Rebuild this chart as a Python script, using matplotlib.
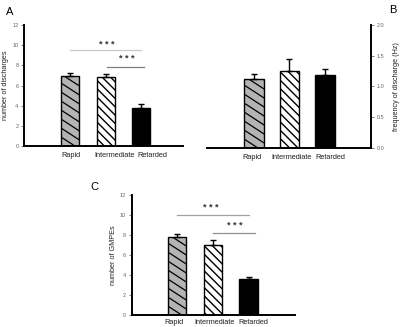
import numpy as np
import matplotlib.pyplot as plt

plt.rcParams['font.family'] = ['Liberation Sans', 'DejaVu Sans']
plt.rcParams['hatch.linewidth'] = 1.0

groups = ["Rapid", "Intermediate", "Retarded"]

discharges = [6.95, 6.8, 3.8]
discharges_err = [0.3, 0.35, 0.35]

frequency = [1.12, 1.26, 1.18]
frequency_err = [0.08, 0.18, 0.1]

gmpes = [7.8, 7.0, 3.6]
gmpes_err = [0.35, 0.5, 0.2]

faces = ["#b4b4b4", "white", "black"]
hatches = ["", "\\\\\\\\", ""]
tick_grey = "#666666"


def shallow_hatch(ax, rect, step=9, angle=33):
    # the grey bar has flatter diagonal lines than matplotlib's 45 deg hatch
    x0, x1 = ax.get_xlim()
    y0, y1 = ax.get_ylim()
    sx = ax.bbox.width / (x1 - x0)
    sy = ax.bbox.height / (y1 - y0)
    left, w, h = rect.get_x(), rect.get_width(), rect.get_height()
    dy = step / sy
    drop = w * sx * np.tan(np.radians(angle)) / sy
    y = -dy
    while y < h + drop + dy:
        ln, = ax.plot([left, left + w], [y, y - drop], color="black",
                      linewidth=0.9, zorder=2.5)
        ln.set_clip_path(rect)
        y += dy


def panel(ax, values, errs, ylim, yticks, ylabel, width, label_shift,
          label_pad, right=False):
    x = np.arange(1, 4)
    bars = ax.bar(x, values, width=width, color=faces, hatch=hatches,
                  edgecolor="black", linewidth=1.0, zorder=2)
    ax.errorbar(x, values, yerr=[[0] * 3, errs], fmt="none", ecolor="black",
                elinewidth=1.0, capsize=2, capthick=1.0, zorder=3)
    ax.set_ylim(*ylim)
    ax.set_yticks(yticks)
    # category labels sit slightly off the bar centres in the original
    ax.set_xticks(x + np.array(label_shift))
    ax.set_xticklabels(groups, fontsize=5.3, color="#222222")
    ax.tick_params(axis="x", length=0, pad=label_pad)
    ax.tick_params(axis="y", length=2, width=0.6, color=tick_grey,
                   labelcolor=tick_grey, labelsize=4, pad=2)
    ax.spines["top"].set_visible(False)
    if right:
        ax.spines["left"].set_visible(False)
        ax.yaxis.tick_right()
        ax.yaxis.set_label_position("right")
        ax.set_ylabel(ylabel, fontsize=5.2, rotation=90, labelpad=6,
                      color="#222222")
    else:
        ax.spines["right"].set_visible(False)
        ax.set_ylabel(ylabel, fontsize=5.2, labelpad=2, color="#222222")
    for s in ax.spines.values():
        s.set_linewidth(1.4)
    return bars


def sig(ax, x0, x1, y, sy, sx, color):
    ax.plot([x0, x1], [y, y], color=color, linewidth=0.9)
    ax.text(sx, sy, "* * *", ha="center", va="center", fontsize=6.5,
            fontweight="bold", color="#333333")


fig = plt.figure(figsize=(4, 3.27), dpi=100)

# A
axA = fig.add_axes([24 / 400, 1 - 146 / 327, 159 / 400, 121 / 327])
barsA = panel(axA, discharges, discharges_err, (0, 12), range(0, 13, 2),
              "number of discharges", 0.51, [0.03, 0.24, 0.31], 4)
axA.set_xlim(-0.296, 4.18)
sig(axA, 1.0, 3.0, 9.57, 10.1, 2.02, "#c8c8c8")
sig(axA, 2.04, 3.08, 7.86, 8.63, 2.59, "#808080")

# B
axB = fig.add_axes([207 / 400, 1 - 148 / 327, 164 / 400, 123 / 327])
barsB = panel(axB, frequency, frequency_err, (0, 2.0),
              [0.0, 0.5, 1.0, 1.5, 2.0], "frequency of discharge (Hz)",
              0.56, [-0.06, 0.07, 0.14], 4, right=True)
axB.set_yticklabels(["0.0", "0.5", "1.0", "1.5", "2.0"])
axB.set_xlim(-0.324, 4.296)

# C
axC = fig.add_axes([131.7 / 400, 1 - 315 / 327, 163.3 / 400, 120 / 327])
barsC = panel(axC, gmpes, gmpes_err, (0, 12), range(0, 13, 2),
              "number of GMPEs", 0.52, [-0.08, 0.04, 0.14], 3)
axC.set_xlim(-0.27, 4.3)
sig(axC, 1.0, 3.0, 10.0, 10.7, 1.95, "#a0a0a0")
sig(axC, 2.0, 3.18, 8.2, 9.0, 2.6, "#909090")

for ax, bars in [(axA, barsA), (axB, barsB), (axC, barsC)]:
    shallow_hatch(ax, bars[0])
    ax.set_xlim(ax.get_xlim())
    ax.set_ylim(ax.get_ylim())

fig.text(10 / 400, 1 - 12 / 327, "A", fontsize=8, ha="center", va="center")
fig.text(393 / 400, 1 - 10 / 327, "B", fontsize=8, ha="center", va="center")
fig.text(94 / 400, 1 - 187 / 327, "C", fontsize=8, ha="center", va="center")

fig.savefig("out.png", dpi=100)
